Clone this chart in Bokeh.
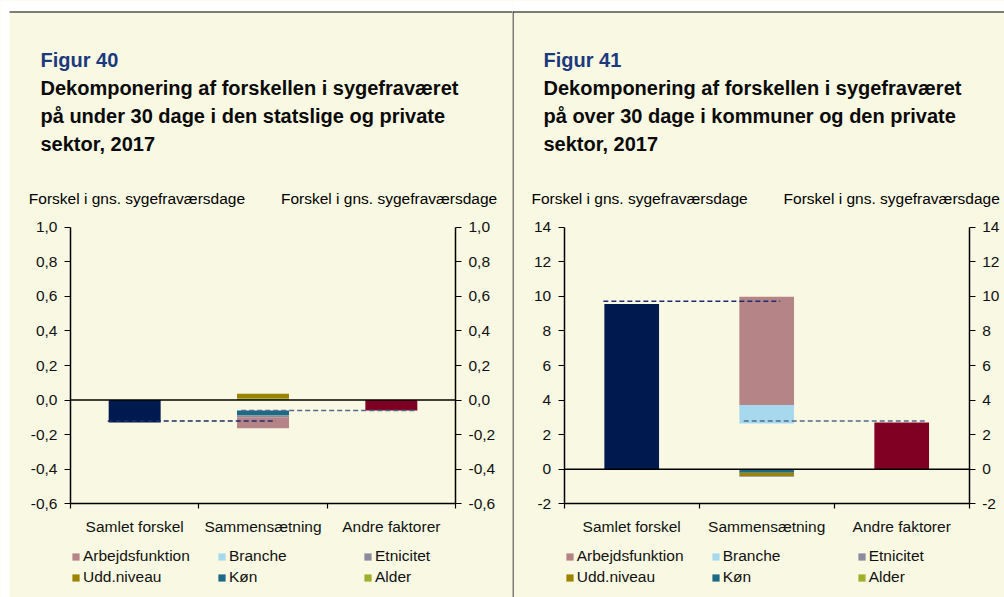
from bokeh.plotting import figure
from bokeh.models import (ColumnDataSource, LinearAxis, FixedTicker, Label,
                          Legend, LegendItem, Range1d)
from bokeh.layouts import row
from bokeh.embed import file_html
from bokeh.resources import INLINE

# ---------------- data ----------------
categories = ["Samlet forskel", "Sammensætning", "Andre faktorer"]
legend_order = ["Arbejdsfunktion", "Branche", "Etnicitet", "Udd.niveau", "Køn", "Alder"]
series_colors = {"Arbejdsfunktion": "#B58486", "Branche": "#A6D9EE", "Etnicitet": "#8A8C9E",
                 "Udd.niveau": "#9C8300", "Køn": "#1C6A86", "Alder": "#9CB02C"}

# Figur 40
f40_title = ["Dekomponering af forskellen i sygefraværet",
             "på under 30 dage i den statslige og private",
             "sektor, 2017"]
f40_samlet = -0.13
f40_andre = -0.06
f40_stack_names = ["Alder", "Udd.niveau", "Køn", "Etnicitet", "Arbejdsfunktion", "Branche"]
f40_stack_values = [0.011, 0.025, -0.029, -0.010, -0.064, 0.0]
f40_dash_levels = [-0.121, -0.061]
f40_yticks = [-0.6, -0.4, -0.2, 0.0, 0.2, 0.4, 0.6, 0.8, 1.0]
f40_ylabels = ["-0,6", "-0,4", "-0,2", "0,0", "0,2", "0,4", "0,6", "0,8", "1,0"]

# Figur 41
f41_title = ["Dekomponering af forskellen i sygefraværet",
             "på over 30 dage i kommuner og den private",
             "sektor, 2017"]
f41_samlet = 9.56
f41_andre = 2.70
f41_stack_names = ["Branche", "Arbejdsfunktion", "Køn", "Udd.niveau", "Etnicitet", "Alder"]
f41_stack_values = [1.07, 6.25, -0.20, -0.19, -0.04, 0.0]
f41_base = 2.65
f41_dash_levels = [9.72, 2.79]
f41_yticks = [-2, 0, 2, 4, 6, 8, 10, 12, 14]
f41_ylabels = ["-2", "0", "2", "4", "6", "8", "10", "12", "14"]

axis_title = "Forskel i gns. sygefraværsdage"

# ---------------- style / geometry ----------------
BG = "#F9F8E2"
FONT = "Liberation Sans"
FS = "15.5px"
TFS = "20px"
NAVY = "#001A4F"
RED = "#800024"
TITLE_BLUE = "#1B3A7E"
H = 597
PLOT_TOP, PLOT_BOT = 226.7, 503.3   # page y of the value axis' top and bottom


def panel(page_x0, width, plot_l, plot_r, fig_no, title_lines, tx, ax_l, ax_r,
          samlet, andre, base, names, values, dash_levels, yticks, ylabels, left_panel):
    ymin, ymax = yticks[0], yticks[-1]
    ppx = (plot_r - plot_l) / 3.0
    ppy = (PLOT_BOT - PLOT_TOP) / (ymax - ymin)

    def X(px):  # page x -> data x
        return (px - plot_l) / ppx

    def Y(py):  # page y -> data y
        return ymax - (py - PLOT_TOP) / ppy

    p = figure(width=width, height=H,
               x_range=Range1d(X(page_x0), X(page_x0 + width)),
               y_range=Range1d(Y(H), Y(0)),
               output_backend="svg", toolbar_location=None, min_border=0,
               background_fill_color=BG, border_fill_color=BG)
    p.outline_line_color = None
    p.grid.visible = False
    p.title.visible = False

    # decoration: white margins, black rules
    if left_panel:
        p.quad(left=X(page_x0), right=X(9), top=Y(0), bottom=Y(H),
               fill_color="#FFFFFF", line_color=None)
        rule_l = X(9)
    else:
        rule_l = X(page_x0)
    p.quad(left=X(page_x0), right=X(page_x0 + width), top=Y(0), bottom=Y(11),
           fill_color="#FFFFFF", line_color=None)
    p.quad(left=rule_l, right=X(page_x0 + width), top=Y(11), bottom=Y(12),
           fill_color="#000000", line_color=None)
    if not left_panel:
        p.quad(left=X(page_x0), right=X(page_x0 + 1), top=Y(11), bottom=Y(H),
               fill_color="#000000", line_color=None)

    # axes
    ylab = dict(zip(yticks, ylabels))
    yl = p.yaxis[0]
    yl.fixed_location = 0
    yr = LinearAxis(fixed_location=3)
    p.add_layout(yr, "right")
    for ax in (yl, yr):
        ax.bounds = (ymin, ymax)
        ax.ticker = FixedTicker(ticks=yticks, minor_ticks=[])
        ax.major_label_overrides = ylab
        ax.major_tick_out = 6
        ax.major_tick_in = 0
        ax.minor_tick_line_color = None
        ax.axis_line_color = "#000000"
        ax.axis_line_width = 1.5
        ax.major_tick_line_color = "#000000"
        ax.major_tick_line_width = 1.2
        ax.major_label_standoff = 7
        ax.major_label_text_font = FONT
        ax.major_label_text_font_size = FS
        ax.major_label_text_color = "#111111"

    xa = p.xaxis[0]
    xa.fixed_location = ymin
    xa.bounds = (0, 3)
    xa.ticker = FixedTicker(ticks=[0.5, 1.5, 2.5], minor_ticks=[0, 1, 2, 3])
    xa.major_label_overrides = {0.5: categories[0], 1.5: categories[1], 2.5: categories[2]}
    xa.major_tick_out = 0
    xa.major_tick_in = 0
    xa.minor_tick_out = 5
    xa.minor_tick_in = 0
    xa.minor_tick_line_color = "#000000"
    xa.minor_tick_line_width = 1.2
    xa.axis_line_color = "#000000"
    xa.axis_line_width = 1.5
    xa.major_label_standoff = 9
    xa.major_label_text_font = FONT
    xa.major_label_text_font_size = FS
    xa.major_label_text_color = "#111111"

    # bars
    bw = 0.405
    src = ColumnDataSource(dict(x=[0.5, 2.5], top=[samlet, andre], color=[NAVY, RED]))
    p.vbar(x="x", top="top", bottom=0, width=bw, fill_color="color", line_color=None, source=src)

    pos = max(base, 0.0)
    neg = min(base, 0.0)
    renderers = {}
    for n, v in zip(names, values):
        if v >= 0:
            b, t = pos, pos + v
            pos = t
        else:
            t, b = neg, neg + v
            neg = b
        renderers[n] = p.vbar(x=[1.5], bottom=[b], top=[t], width=bw,
                              fill_color=series_colors[n], line_color=None)

    # zero line
    p.line(x=[0, 3], y=[0, 0], line_color="#000000", line_width=1.5)

    # dashed connectors
    p.line(x=[0.29, 1.6], y=[dash_levels[0]] * 2, line_color="#1C2C6C",
           line_dash="5 3", line_width=1.5)
    p.line(x=[1.33, 2.69], y=[dash_levels[1]] * 2, line_color="#56688F",
           line_dash="5 3", line_width=1.5)

    # legend (location in pixels from the frame's bottom-left = canvas bottom-left)
    items = [LegendItem(label=n, renderers=[renderers[n]]) for n in legend_order]
    leg = Legend(items=items, ncols=3, orientation="horizontal",
                 location=(plot_l + 1 - page_x0, 10), glyph_width=9, glyph_height=9,
                 label_standoff=3, label_width=133, label_height=20, spacing=1,
                 padding=0, margin=0, border_line_color=None,
                 background_fill_alpha=0, label_text_font=FONT,
                 label_text_font_size=FS, label_text_color="#111111")
    p.add_layout(leg, "center")

    # texts
    def lab(text, px, py, size=FS, bold=False, color="#000000", align="left"):
        p.add_layout(Label(x=X(px), y=Y(py), text=text, text_font=FONT, text_font_size=size,
                           text_font_style="bold" if bold else "normal",
                           text_color=color, text_align=align, text_baseline="alphabetic"))

    lab("Figur %d" % fig_no, tx, 67.3 - 7.5, size=TFS, bold=True, color=TITLE_BLUE)
    for i, line in enumerate(title_lines):
        lab(line, tx, 95 + i * 27.8 - 7.5, size=TFS, bold=True, color="#0A0A0A")
    lab(axis_title, ax_l, 203.3 - 5.5)
    lab(axis_title, ax_r, 203.3 - 5.5, align="right")
    return p


p1 = panel(0, 512, 70.0, 455.0, 40, f40_title, 40, 28.3, 496.7,
           f40_samlet, f40_andre, f40_andre, f40_stack_names, f40_stack_values,
           f40_dash_levels, f40_yticks, f40_ylabels, True)
p2 = panel(512, 492, 563.7, 968.7, 41, f41_title, 543, 531, 999.3,
           f41_samlet, f41_andre, f41_base, f41_stack_names, f41_stack_values,
           f41_dash_levels, f41_yticks, f41_ylabels, False)

layout = row(p1, p2)
open("out.html", "w").write(file_html(layout, INLINE))
